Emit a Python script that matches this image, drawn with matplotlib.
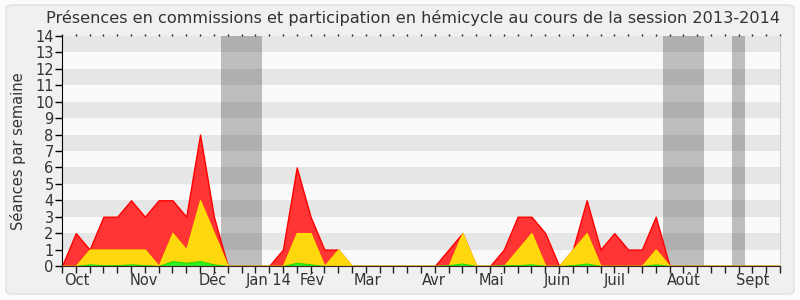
import matplotlib
matplotlib.use("Agg")
import matplotlib.pyplot as plt
from matplotlib.patches import FancyBboxPatch
import numpy as np

weeks = list(range(53))
presences = [0, 2, 1, 3, 3, 4, 3, 4, 4, 3, 8, 3, 0,
             0, 0, 0, 1, 6, 3, 1, 1, 0, 0, 0, 0, 0, 0, 0,
             1, 2, 0, 0, 1, 3, 3, 2, 0, 1, 4, 1, 2, 1, 1, 3,
             0, 0, 0, 0, 0, 0, 0, 0, 0]
hemicycle = [0, 0, 1, 1, 1, 1, 1, 0, 2, 1, 4, 2, 0,
             0, 0, 0, 0, 2, 2, 0, 1, 0, 0, 0, 0, 0, 0, 0,
             0, 2, 0, 0, 0, 1, 2, 0, 0, 1, 2, 0, 0, 0, 0, 1,
             0, 0, 0, 0, 0, 0, 0, 0, 0]
interventions = [0, 0, 0.1, 0.05, 0.05, 0.1, 0.05, 0, 0.3, 0.2, 0.3, 0.1, 0,
                 0, 0, 0, 0, 0.2, 0.1, 0, 0, 0, 0, 0, 0, 0, 0, 0,
                 0.05, 0.15, 0, 0, 0.05, 0.05, 0.1, 0, 0, 0.05, 0.15, 0, 0, 0, 0, 0.1,
                 0, 0, 0, 0, 0, 0, 0, 0, 0]
vacances = [(11.5, 14.5), (43.5, 46.5), (48.5, 49.5)]
month_labels = ["Oct", "Nov", "Déc", "Jan 14", "Fév", "Mar", "Avr", "Mai",
                "Juin", "Juil", "Août", "Sept"]
month_pos = [1.05, 5.9, 10.9, 15.0, 18.1, 22.1, 26.9, 31.1, 35.9, 40.0, 45.0, 50.0]
title = "Présences en commissions et participation en hémicycle au cours de la session 2013-2014"
ylabel = "Séances par semaine"

plt.rcParams['font.family'] = ['DejaVu Sans']

fig = plt.figure(figsize=(8, 3), dpi=100)
fig.patch.set_facecolor('#fbfbfb')
border = FancyBboxPatch((6 / 800, 6 / 300), 788 / 800, 289 / 300,
                        boxstyle="round,pad=0,rounding_size=0.01",
                        transform=fig.transFigure, facecolor='#f0f0f0',
                        edgecolor='#e2e2e2', linewidth=1.2, zorder=-10)
fig.patches.append(border)

ax = fig.add_axes([62 / 800, 34 / 300, 718 / 800, 230 / 300])
ax.set_facecolor('#fafafa')
ax.set_xlim(0, 52)
ax.set_ylim(0, 14)

for k in range(14):
    if k % 2 == 1:
        ax.axhspan(k, k + 1, color='#e6e6e6', lw=0, zorder=0)

for a, b in vacances:
    ax.axvspan(a, b, color='black', alpha=0.24, lw=0, zorder=1)

ax.fill_between(weeks, 0, presences, facecolor='#ff3535', edgecolor='#ff0000', lw=1, zorder=2)
ax.fill_between(weeks, 0, hemicycle, facecolor='#ffd70f', edgecolor='#ffe000', lw=1, zorder=3)
ax.fill_between(weeks, 0, interventions, facecolor='#33ee22', edgecolor='#22dd00', lw=0.8, zorder=4)

ax.set_yticks(range(15))
ax.tick_params(axis='y', direction='out', length=5, width=1, colors='black',
               labelcolor='#333333', labelsize=10.5, pad=1)
ax.set_xticks(weeks)
ax.set_xticklabels([])
ax.tick_params(axis='x', which='major', direction='out', length=5, width=1,
               colors='#222222', top=True)
for t in ax.xaxis.get_major_ticks():
    t.tick2line.set_markersize(1.5)

for lab, p in zip(month_labels, month_pos):
    ax.text(p, -0.45, lab, ha='center', va='top', fontsize=10.5, color='#333333',
            transform=ax.transData, clip_on=False)

ax.spines['top'].set_visible(False)
ax.spines['right'].set_color('#d0d0d0')
ax.spines['left'].set_color('black')
ax.spines['bottom'].set_color('#3a2222')
ax.spines['bottom'].set_zorder(5)

ax.set_ylabel(ylabel, fontsize=10.5, color='#333333')
ax.yaxis.label.set_va('center')
ax.yaxis.set_label_coords(-62 / 718 + 18 / 718, 0.5)
fig.text(413 / 800, 1 - 18 / 300, title, ha='center', va='center', fontsize=11.6, color='#333333')

fig.savefig('out.png', dpi=100, facecolor=fig.get_facecolor())
